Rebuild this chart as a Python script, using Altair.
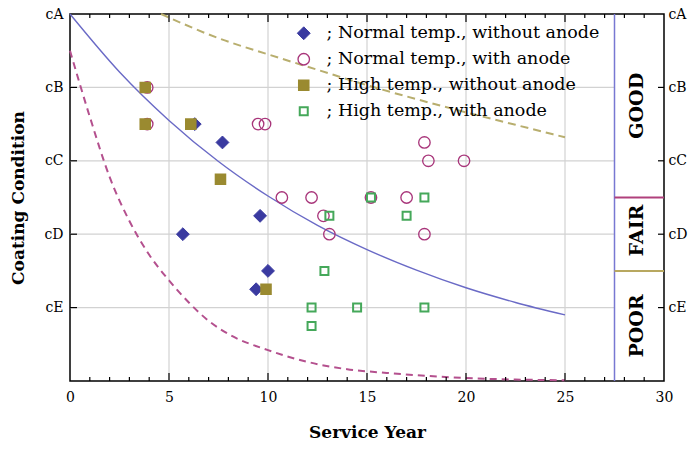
import altair as alt
import pandas as pd

# ---------------- data ----------------
series_names = ["; Normal temp., without anode", "; Normal temp., with anode",
                "; High temp., without anode", "; High temp., with anode"]
series_stroke = ["#3a3aa0", "#a8357a", "#9a8a30", "#45a85a"]
series_fill = ["#3a3aa0", "transparent", "#9a8a30", "transparent"]
series_shape = ["diamond", "circle", "square", "square"]
series_size = [165, 64, 81, 70]
series_width = [1, 2, 1, 1.6]

nw_x = [6.3, 7.7, 9.6, 5.7, 10.0, 9.4]
nw_y = [3.5, 3.25, 2.25, 2.0, 1.5, 1.25]
na_x = [3.9, 3.9, 9.5, 9.85, 10.7, 12.2, 12.8, 13.1, 15.2, 17.0, 17.9, 18.1, 19.9, 17.9]
na_y = [4.0, 3.5, 3.5, 3.5, 2.5, 2.5, 2.25, 2.0, 2.5, 2.5, 3.25, 3.0, 3.0, 2.0]
hw_x = [3.8, 3.8, 6.1, 7.6, 9.9]
hw_y = [4.0, 3.5, 3.5, 2.75, 1.25]
ha_x = [15.2, 17.9, 13.1, 17.0, 12.85, 12.2, 14.5, 17.9, 12.2]
ha_y = [2.5, 2.5, 2.25, 2.25, 1.5, 1.0, 1.0, 1.0, 0.75]

blue_x = [0, 2.5, 5, 7.5, 10, 12.5, 15, 17.5, 20, 22.5, 25]
blue_y = [5.0, 4.21, 3.55, 2.99, 2.52, 2.12, 1.79, 1.51, 1.27, 1.07, 0.90]
pink_x = [0, 1, 2, 3, 4, 5, 6, 7, 8, 10, 12, 14, 16, 18, 20, 22.5, 25]
pink_y = [4.5, 3.6, 2.78, 2.18, 1.72, 1.37, 1.07, 0.82, 0.64, 0.42, 0.26, 0.16, 0.11, 0.07, 0.04, 0.02, 0.01]
olive_x = [4.6, 7.5, 10, 12.5, 15, 17.5, 20, 22.5, 25]
olive_y = [5.0, 4.67, 4.45, 4.24, 4.03, 3.84, 3.66, 3.49, 3.32]

x_ticks = [0, 5, 10, 15, 20, 25, 30]
x_major = [5, 10, 15, 20, 25]
x_minor = [1, 2, 3, 4, 6, 7, 8, 9, 11, 12, 13, 14, 16, 17, 18, 19, 21, 22, 23, 24, 26, 27, 28, 29]
y_ticks = [1, 2, 3, 4, 5]
y_tick_marks = [1, 2, 3, 4]
grid_x = [5, 10, 15, 20, 25]
grid_y = [1, 2, 3, 4]

zone_divider = [27.5]
zone_bounds = [2.5, 1.5]
zone_bound_colors = ["#b0407c", "#b8a860"]
zone_labels = ["GOOD", "FAIR", "POOR"]
zone_label_y = [3.75, 2.05, 0.75]
zone_label_x = [28.65, 28.65, 28.65]
x_lo, x_hi, y_lo, y_hi = 0, 30, 0, 5

FONT = "DejaVu Serif"
W, H = 594, 367

# ---------------- build ----------------
pts = pd.concat([
    pd.DataFrame({"x": nw_x, "y": nw_y, "series": series_names[0]}),
    pd.DataFrame({"x": na_x, "y": na_y, "series": series_names[1]}),
    pd.DataFrame({"x": hw_x, "y": hw_y, "series": series_names[2]}),
    pd.DataFrame({"x": ha_x, "y": ha_y, "series": series_names[3]}),
], ignore_index=True)
pts["order"] = pts["series"].map({s: i for i, s in enumerate(series_names)})

xs = alt.Scale(domain=[x_lo, x_hi], nice=False, zero=False)
ys = alt.Scale(domain=[y_lo, y_hi], nice=False, zero=False)

label_expr = "'c' + ['', 'E', 'D', 'C', 'B', 'A'][datum.value]"

# grid (also carries the right and top axes)
grid_h = alt.Chart(pd.DataFrame({"gy": grid_y})).mark_rule(color="#d2d2d2", strokeWidth=1.2).encode(
    y=alt.Y("gy:Q", scale=ys, axis=alt.Axis(orient="right", values=y_ticks, labelExpr=label_expr,
                                           ticks=False, domain=False, grid=False, labelFont=FONT,
                                           labelFontSize=14, labelColor="black", labelPadding=4,
                                           title=None)),
    x=alt.XDatum(x_lo, scale=xs, axis=None),
    x2=alt.X2Datum(zone_divider[0]),
)
grid_v = alt.Chart(pd.DataFrame({"gx": grid_x})).mark_rule(color="#d2d2d2", strokeWidth=1.2).encode(
    x=alt.X("gx:Q", scale=xs, axis=alt.Axis(orient="top", labels=False, ticks=False, domain=False,
                                           grid=False, title=None)),
    y=alt.YDatum(y_lo, scale=ys, axis=None),
    y2=alt.Y2Datum(y_hi),
)

# zone panel
divider = alt.Chart(pd.DataFrame({"dx": zone_divider})).mark_rule(color="#7878d2", strokeWidth=1.5).encode(
    x=alt.X("dx:Q", scale=xs, axis=None),
    y=alt.YDatum(y_lo, scale=ys, axis=None),
    y2=alt.Y2Datum(y_hi),
)
bounds = alt.Chart(pd.DataFrame({"by": zone_bounds, "c": zone_bound_colors})).mark_rule(strokeWidth=2).encode(
    y=alt.Y("by:Q", scale=ys, axis=None),
    x=alt.XDatum(zone_divider[0], scale=xs, axis=None),
    x2=alt.X2Datum(x_hi),
    color=alt.Color("c:N", scale=None),
)
zone_text = alt.Chart(pd.DataFrame({"t": zone_labels, "ty": zone_label_y, "tx": zone_label_x})).mark_text(
    angle=270, font=FONT, fontSize=19, fontWeight="bold", color="black", align="center", baseline="middle"
).encode(
    x=alt.X("tx:Q", scale=xs, axis=None),
    y=alt.Y("ty:Q", scale=ys, axis=None),
    text="t:N",
)

# curves
def curve(xv, yv, color, width, dash=None):
    m = dict(color=color, strokeWidth=width, interpolate="monotone")
    if dash:
        m["strokeDash"] = dash
    return alt.Chart(pd.DataFrame({"cx": xv, "cy": yv})).mark_line(**m).encode(
        x=alt.X("cx:Q", scale=xs, axis=None),
        y=alt.Y("cy:Q", scale=ys, axis=None),
    )

c_blue = curve(blue_x, blue_y, "#6a6ac6", 1.4)
c_pink = curve(pink_x, pink_y, "#b4508e", 2, [7, 5])
c_olive = curve(olive_x, olive_y, "#b8ae6e", 2, [8, 5])

# points
leg = alt.Legend(title=None)
points = alt.Chart(pts).mark_point(filled=True, opacity=1).encode(
    x=alt.X("x:Q", scale=xs, axis=alt.Axis(orient="bottom", values=x_ticks, ticks=False, domain=False,
                                          grid=False, labelFont=FONT, labelFontSize=14, labelColor="black",
                                          labelPadding=9, labelFlush=False, title="Service Year",
                                          titleFont=FONT, titleFontSize=17, titleFontWeight="bold",
                                          titleColor="black", titlePadding=20)),
    y=alt.Y("y:Q", scale=ys, axis=alt.Axis(orient="left", values=y_ticks, labelExpr=label_expr, ticks=False,
                                          domain=False, grid=False, labelFont=FONT, labelFontSize=14,
                                          labelColor="black", labelPadding=7, title="Coating Condition",
                                          titleFont=FONT, titleFontSize=17, titleFontWeight="bold",
                                          titleColor="black", titlePadding=16)),
    fill=alt.Fill("series:N", scale=alt.Scale(domain=series_names, range=series_fill), legend=leg),
    stroke=alt.Stroke("series:N", scale=alt.Scale(domain=series_names, range=series_stroke), legend=leg),
    shape=alt.Shape("series:N", scale=alt.Scale(domain=series_names, range=series_shape), legend=leg),
    size=alt.Size("series:N", scale=alt.Scale(domain=series_names, range=series_size), legend=leg),
    strokeWidth=alt.StrokeWidth("series:N", scale=alt.Scale(domain=series_names, range=series_width), legend=leg),
    order="order:Q",
)

# inward ticks
def xticks(vals, ypos, off):
    return alt.Chart(pd.DataFrame({"tv": vals})).mark_rule(color="black", strokeWidth=1.2, y2Offset=off).encode(
        x=alt.X("tv:Q", scale=xs, axis=None),
        y=alt.YDatum(ypos, scale=ys, axis=None),
        y2=alt.Y2Datum(ypos),
    )

def yticks(vals, xpos, off):
    return alt.Chart(pd.DataFrame({"tv": vals})).mark_rule(color="black", strokeWidth=1.2, x2Offset=off).encode(
        y=alt.Y("tv:Q", scale=ys, axis=None),
        x=alt.XDatum(xpos, scale=xs, axis=None),
        x2=alt.X2Datum(xpos),
    )

ticks = [
    xticks(x_major, y_lo, -8), xticks(x_minor, y_lo, -4),
    xticks(x_major, y_hi, 8), xticks(x_minor, y_hi, 4),
    yticks(y_tick_marks, x_lo, 7), yticks(y_tick_marks, x_hi, -6),
]

chart = alt.layer(
    grid_h, grid_v, divider, bounds, c_pink, c_olive, c_blue, points, zone_text, *ticks
).properties(
    width=W, height=H,
    autosize=alt.AutoSizeParams(type="none"),
    padding={"left": 70, "top": 14, "right": 27, "bottom": 68},
    background="white",
).configure_view(
    stroke="black", strokeWidth=1.5
).configure_legend(
    orient="none", legendX=225, legendY=10.5, padding=0,
    labelFont=FONT, labelFontSize=17.5, labelColor="black", labelLimit=400,
    labelOffset=14, rowPadding=7,
)

chart.save("out.html", embed_options={"renderer": "svg", "actions": False})
